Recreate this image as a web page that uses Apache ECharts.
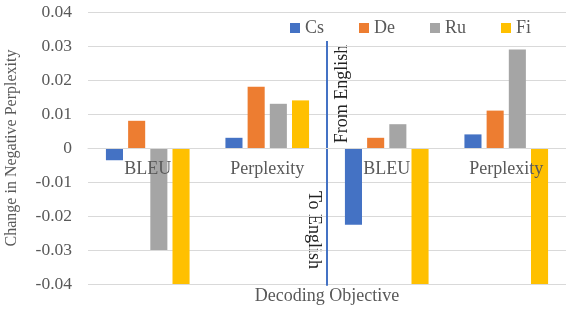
<!DOCTYPE html>
<html>
<head>
<meta charset="utf-8">
<script src="https://cdn.jsdelivr.net/npm/echarts@6/dist/echarts.min.js"></script>
<style>
  html, body { margin: 0; padding: 0; background: #fff; }
  #chart { width: 566px; height: 311px; }
</style>
</head>
<body>
<div id="chart"></div>
<script>
"use strict";

var categories = ['BLEU', 'Perplexity', 'BLEU', 'Perplexity'];
var csValues = [-0.0036, 0.003, -0.0226, 0.004];
var deValues = [0.008, 0.018, 0.003, 0.011];
var ruValues = [-0.03, 0.013, 0.007, 0.029];
var fiValues = [-0.04, 0.014, -0.04, -0.04];
var seriesNames = ['Cs', 'De', 'Ru', 'Fi'];
var seriesColors = ['#4472C4', '#ED7D31', '#A5A5A5', '#FFC000'];
var yTicks = [-0.04, -0.03, -0.02, -0.01, 0, 0.01, 0.02, 0.03, 0.04];
// divider sits after this category, spanning these y values
var dividerAfter = 1;
var dividerRange = [0.0315, -0.0405];

var chart = echarts.init(document.getElementById('chart'));
var fontFamily = '"Liberation Serif", "Times New Roman", serif';
var gray = '#595959';

// plot area (px)
var gridTop = 12, gridBottom = 27, chartHeight = 311;
var plotHeight = chartHeight - gridTop - gridBottom;
// labels stay at the grid edge in v6, so pull them up to the zero line
var zeroDrop = plotHeight * (0 - yTicks[0]) / (yTicks[yTicks.length - 1] - yTicks[0]);

function barSeries(name, values, color) {
    return {
        name: name,
        type: 'bar',
        data: values,
        itemStyle: { color: color },
        barGap: '30%',
        barCategoryGap: '30%'
    };
}

var option = {
    animation: false,
    textStyle: { fontFamily: fontFamily },
    grid: { left: 88, right: 0, top: gridTop, bottom: gridBottom, containLabel: false, outerBoundsMode: 'none' },
    title: {
        text: 'Decoding Objective',
        left: 327,
        textAlign: 'center',
        top: 287,
        padding: 0,
        textStyle: { fontSize: 18, color: gray, fontWeight: 'normal', fontFamily: fontFamily }
    },
    legend: {
        left: 290,
        top: 19,
        padding: 0,
        itemWidth: 10,
        itemHeight: 10,
        itemGap: 35,
        icon: 'rect',
        data: seriesNames,
        textStyle: { fontSize: 18, color: gray, fontFamily: fontFamily }
    },
    xAxis: {
        type: 'category',
        data: categories,
        z: 10,
        axisLine: { show: true, onZero: true, lineStyle: { color: '#D9D9D9', width: 1 } },
        axisTick: { show: false },
        axisLabel: { fontSize: 18, color: gray, margin: 12 - zeroDrop }
    },
    yAxis: {
        type: 'value',
        min: yTicks[0],
        max: yTicks[yTicks.length - 1],
        interval: 0.01,
        name: 'Change in Negative Perplexity',
        nameLocation: 'middle',
        nameGap: 68,
        nameTextStyle: { fontSize: 16, color: gray },
        axisLabel: {
            fontSize: 17.5,
            color: gray,
            margin: 16,
            formatter: function (v) {
                return String(Math.round(v * 100) / 100);
            }
        },
        splitLine: { lineStyle: { color: '#D9D9D9', width: 1 } }
    },
    series: [
        barSeries(seriesNames[0], csValues, seriesColors[0]),
        barSeries(seriesNames[1], deValues, seriesColors[1]),
        barSeries(seriesNames[2], ruValues, seriesColors[2]),
        barSeries(seriesNames[3], fiValues, seriesColors[3]),
        {
            name: 'divider',
            type: 'custom',
            silent: true,
            z: 5,
            data: [[dividerAfter, dividerRange[0], dividerRange[1]]],
            renderItem: function (params, api) {
                var top = api.coord([api.value(0), api.value(1)]);
                var bottom = api.coord([api.value(0), api.value(2)]);
                var half = api.size([1, 0])[0] / 2;
                var x = top[0] + half;
                return {
                    type: 'line',
                    shape: { x1: x, y1: top[1], x2: x, y2: bottom[1] },
                    style: { stroke: '#4472C4', lineWidth: 2 }
                };
            }
        }
    ],
    graphic: [{
        type: 'text',
        x: 342,
        y: 94,
        rotation: Math.PI / 2,
        style: {
            text: 'From English',
            font: '18px ' + fontFamily,
            fill: '#222',
            align: 'center',
            verticalAlign: 'middle'
        }
    }, {
        type: 'text',
        x: 314,
        y: 230,
        rotation: -Math.PI / 2,
        style: {
            text: 'To English',
            font: '18px ' + fontFamily,
            fill: '#222',
            align: 'center',
            verticalAlign: 'middle'
        }
    }]
};

chart.setOption(option);
</script>
</body>
</html>
